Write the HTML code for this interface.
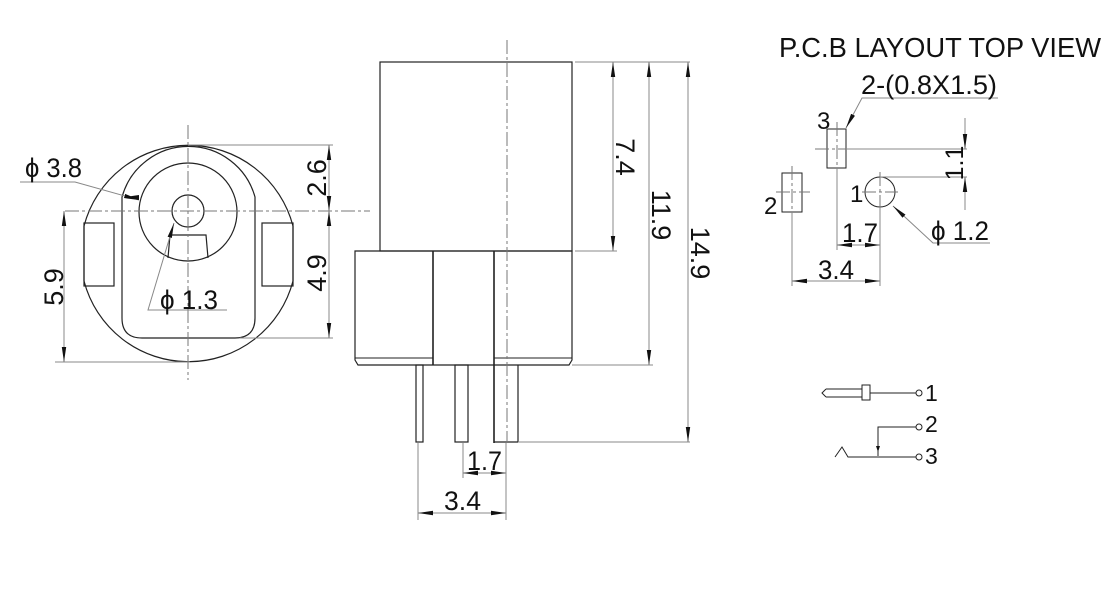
<!DOCTYPE html>
<html><head><meta charset="utf-8"><style>
html,body{margin:0;padding:0;background:#fff;}
svg{display:block;}
text{font-family:"Liberation Sans",sans-serif;fill:#111;}
</style></head><body>
<svg width="1120" height="610" viewBox="0 0 1120 610" xmlns="http://www.w3.org/2000/svg">
<defs>
<marker id="a" markerUnits="userSpaceOnUse" markerWidth="16" markerHeight="8" refX="15" refY="4" orient="auto-start-reverse"><path d="M0,1.8 L15,4 L0,6.2 Z" fill="#111"/></marker>
</defs>
<g fill="none" stroke="#222" stroke-width="1.2">
<path d="M84,226 A108,108 0 0 1 293,226 L293,281 A108,108 0 0 1 84,281 Z" fill="#fff"/>
<rect x="84" y="223" width="30" height="63"/>
<rect x="262" y="223" width="31" height="63"/>
<path d="M122,197 A69,69 0 0 1 255,197 L255,318 Q255,338 235,338 L142,338 Q122,338 122,318 Z"/>
<circle cx="188" cy="212" r="49"/>
<circle cx="188" cy="211" r="16"/>
<polyline points="168,258 170,235 206,235 208,258"/>
<rect x="380" y="62" width="192" height="189"/>
<path d="M355,251 L572,251 L572,360 L569,365 L358,365 L355,360 Z"/>
<line x1="355" y1="358" x2="433" y2="358" stroke-width="1"/>
<line x1="494" y1="358" x2="572" y2="358" stroke-width="1"/>
<line x1="433" y1="251" x2="433" y2="365" stroke-width="1.6"/>
<line x1="494" y1="251" x2="494" y2="443" stroke-width="1.6"/>
<rect x="416" y="365" width="7" height="77"/>
<rect x="455" y="365" width="13" height="77"/>
<line x1="494" y1="442" x2="518" y2="442"/>
<line x1="518" y1="365" x2="518" y2="442"/>
<rect x="827" y="129" width="19" height="39" stroke-width="1"/>
<rect x="782" y="173" width="20" height="39" stroke-width="1"/>
<circle cx="880" cy="192" r="15" stroke-width="1"/>
<path d="M826,389 L822,393 L826,397 M826,389 L862,389 M826,397 L862,397" stroke-width="1"/>
<rect x="862" y="385" width="8" height="15" stroke-width="1"/>
<line x1="870" y1="393" x2="916" y2="393" stroke-width="1"/>
<circle cx="919" cy="393" r="3" stroke-width="1"/>
<path d="M916,427 L878,427 L878,456" stroke-width="1"/>
<circle cx="919" cy="427" r="3" stroke-width="1"/>
<path d="M835,457 L842,447 L848,457 L916,457" stroke-width="1"/>
<circle cx="919" cy="457" r="3" stroke-width="1"/>
</g>
<polygon points="876,446 880,446 878,452" fill="#111"/>
<g stroke="#777" stroke-width="1" stroke-dasharray="14 3 3 3" fill="none">
<line x1="188" y1="125" x2="188" y2="380"/>
<line x1="65" y1="211" x2="370" y2="211"/>
<line x1="507" y1="40" x2="507" y2="443"/>
<line x1="837" y1="122" x2="837" y2="175"/>
<line x1="815" y1="149" x2="860" y2="149"/>
<line x1="792" y1="166" x2="792" y2="212"/>
<line x1="776" y1="192" x2="810" y2="192"/>
<line x1="862" y1="192" x2="898" y2="192"/>
<line x1="880" y1="172" x2="880" y2="210"/>
</g>
<g stroke="#888" stroke-width="1" fill="none">
<line x1="188" y1="145" x2="333" y2="145"/>
<line x1="240" y1="338" x2="333" y2="338"/>
<line x1="55" y1="362" x2="190" y2="362"/>
<line x1="329" y1="145" x2="329" y2="211" marker-start="url(#a)" marker-end="url(#a)"/>
<line x1="329" y1="211" x2="329" y2="338" marker-start="url(#a)" marker-end="url(#a)"/>
<line x1="64" y1="211" x2="64" y2="362" marker-start="url(#a)" marker-end="url(#a)"/>
<polyline points="20,182 75,182 139,200" marker-end="url(#a)"/>
<polyline points="227,310 148,310 174,223" marker-end="url(#a)"/>
<line x1="575" y1="62" x2="690" y2="62"/>
<line x1="575" y1="251" x2="617" y2="251"/>
<line x1="572" y1="365" x2="653" y2="365"/>
<line x1="518" y1="442" x2="690" y2="442"/>
<line x1="613" y1="62" x2="613" y2="251" marker-start="url(#a)" marker-end="url(#a)"/>
<line x1="649" y1="62" x2="649" y2="365" marker-start="url(#a)" marker-end="url(#a)"/>
<line x1="688" y1="62" x2="688" y2="442" marker-start="url(#a)" marker-end="url(#a)"/>
<line x1="463" y1="443" x2="463" y2="478"/>
<line x1="506" y1="443" x2="506" y2="520"/>
<line x1="418" y1="443" x2="418" y2="520"/>
<line x1="463" y1="473" x2="506" y2="473" marker-start="url(#a)" marker-end="url(#a)"/>
<line x1="418" y1="513" x2="506" y2="513" marker-start="url(#a)" marker-end="url(#a)"/>
<line x1="846" y1="149" x2="967" y2="149"/>
<line x1="880" y1="177" x2="967" y2="177"/>
<line x1="965" y1="118" x2="965" y2="149" marker-end="url(#a)"/>
<line x1="965" y1="210" x2="965" y2="177" marker-end="url(#a)"/>
<line x1="837" y1="168" x2="837" y2="250"/>
<line x1="880" y1="207" x2="880" y2="286"/>
<line x1="792" y1="212" x2="792" y2="286"/>
<line x1="837" y1="245" x2="880" y2="245" marker-start="url(#a)" marker-end="url(#a)"/>
<line x1="792" y1="281" x2="880" y2="281" marker-start="url(#a)" marker-end="url(#a)"/>
<polyline points="998,98 862,98 846,128" marker-end="url(#a)"/>
<polyline points="990,243 933,243 893,206" marker-end="url(#a)"/>
</g>
<polygon points="125,197 139,195 139,200" fill="#111"/>
<g font-size="27">
<text x="25" y="177" textLength="57" lengthAdjust="spacingAndGlyphs">ϕ 3.8</text>
<text x="160" y="309" textLength="58" lengthAdjust="spacingAndGlyphs">ϕ 1.3</text>
<text transform="translate(326,178) rotate(-90)" text-anchor="middle">2.6</text>
<text transform="translate(326,273) rotate(-90)" text-anchor="middle">4.9</text>
<text transform="translate(63,287) rotate(-90)" text-anchor="middle">5.9</text>
<text transform="translate(616,157) rotate(90)" text-anchor="middle">7.4</text>
<text transform="translate(652,215) rotate(90)" text-anchor="middle">11.9</text>
<text transform="translate(691,253) rotate(90)" text-anchor="middle">14.9</text>
<text x="467" y="470" textLength="35" lengthAdjust="spacingAndGlyphs">1.7</text>
<text x="444" y="510" textLength="37" lengthAdjust="spacingAndGlyphs">3.4</text>
<text x="779" y="57" font-size="28" textLength="322" lengthAdjust="spacingAndGlyphs">P.C.B LAYOUT  TOP VIEW</text>
<text x="861" y="94" textLength="136" lengthAdjust="spacingAndGlyphs">2-(0.8X1.5)</text>
<text x="817" y="129" font-size="24">3</text>
<text x="764" y="214" font-size="24">2</text>
<text x="850" y="202" font-size="24">1</text>
<text transform="translate(963,163) rotate(-90)" text-anchor="middle" font-size="25">1.1</text>
<text x="842" y="242" textLength="36" lengthAdjust="spacingAndGlyphs">1.7</text>
<text x="818" y="279" textLength="36" lengthAdjust="spacingAndGlyphs">3.4</text>
<text x="931" y="240" textLength="58" lengthAdjust="spacingAndGlyphs">ϕ 1.2</text>
<text x="925" y="401" font-size="23">1</text>
<text x="925" y="432" font-size="23">2</text>
<text x="925" y="464" font-size="23">3</text>
</g>
</svg>
</body></html>
